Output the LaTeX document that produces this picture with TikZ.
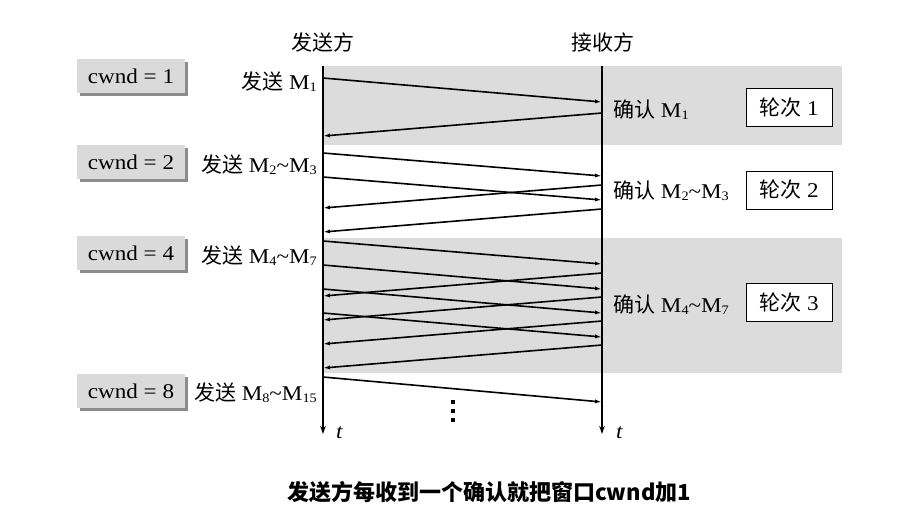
\documentclass[tikz,border=0pt]{standalone}
\usepackage{fontspec}
\setmainfont{Liberation Serif}[FakeStretch=1.1]
\newfontfamily\cjk{Noto Sans CJK SC}
\usetikzlibrary{arrows.meta,shadows}
\newcommand\zh[1]{{\cjk #1}}
\newcommand\sbs[1]{\raisebox{-2.5pt}{\fontsize{13}{14}\selectfont #1}}
\newcommand\tld{\textasciitilde}
\definecolor{bandgray}{HTML}{DCDCDC}
\definecolor{boxgray}{HTML}{DADADA}
\definecolor{shadowgray}{HTML}{8C8C8C}
\begin{document}
\begin{tikzpicture}[x=1pt,y=-1pt,
  every node/.style={font=\fontsize{21}{23}\selectfont, inner sep=0pt},
  lifeline/.style={line width=1.3pt,-{Stealth[length=8pt,width=5.5pt]}},
  msg/.style={line width=1.6pt,-{Latex[length=7pt,width=4pt]}},
  band/.style={fill=bandgray,draw=none},
  cwndbox/.style={fill=boxgray, minimum width=108pt, minimum height=34pt,
     drop shadow={shadow xshift=3pt, shadow yshift=-3pt, fill=shadowgray, opacity=1}},
  roundbox/.style={draw=black, line width=1pt, fill=white, minimum width=86pt, minimum height=38pt},
  sendlbl/.style={anchor=base east},
  acklbl/.style={anchor=base west},
  dotsq/.style={fill=black, minimum size=4.5pt, inner sep=0pt},
]
\useasboundingbox (0,0) rectangle (910,512);
\fill[white] (0,0) rectangle (910,512);
% bands
\fill[band] (323,66) rectangle (842,145);
\fill[band] (323,238) rectangle (842,373);
% headers
\node (hs) at (323,42) {\zh{发送方}};
\node (hr) at (603,42) {\zh{接收方}};
% lifelines
\coordinate (stop) at (323,66);
\coordinate (sbot) at (323,434);
\coordinate (rtop) at (602,66);
\coordinate (rbot) at (602,434);
\draw[lifeline] (stop) -- (sbot);
\draw[lifeline] (rtop) -- (rbot);
\node[anchor=west] (ts) at (336,433) {\itshape t};
\node[anchor=west] (tr) at (616,433) {\itshape t};
% data segments
\foreach \a/\b [count=\i] in {78/102, 153/176, 177/200, 241/264, 265/289, 289/313, 313/337, 377/402} {
  \coordinate (snd\i) at (323,\a);
  \coordinate (rcv\i) at (602,\b);
  \draw[msg] (snd\i) -- (rcv\i);
}
% acknowledgements
\foreach \a/\b [count=\i] in {113/136, 185/208, 209/232, 273/296, 297/320, 321/344, 345/368} {
  \coordinate (ackr\i) at (602,\a);
  \coordinate (acks\i) at (323,\b);
  \draw[msg] (ackr\i) -- (acks\i);
}
% cwnd boxes
\node[cwndbox] (c1) at (131,76) {cwnd = 1};
\node[cwndbox] (c2) at (131,162) {cwnd = 2};
\node[cwndbox] (c4) at (131,253) {cwnd = 4};
\node[cwndbox] (c8) at (131,391) {cwnd = 8};
% send labels
\node[sendlbl] (l1) at (317,89) {\zh{发送} M\sbs{1}};
\node[sendlbl] (l2) at (317,172) {\zh{发送} M\sbs{2}\tld M\sbs{3}};
\node[sendlbl] (l4) at (317,263) {\zh{发送} M\sbs{4}\tld M\sbs{7}};
\node[sendlbl] (l8) at (317,400) {\zh{发送} M\sbs{8}\tld M\sbs{15}};
% ack labels
\node[acklbl] (a1) at (613,117) {\zh{确认} M\sbs{1}};
\node[acklbl] (a2) at (613,198) {\zh{确认} M\sbs{2}\tld M\sbs{3}};
\node[acklbl] (a3) at (613,312) {\zh{确认} M\sbs{4}\tld M\sbs{7}};
% round boxes
\node[roundbox] (r1) at (789,107.5) {\zh{轮次} 1};
\node[roundbox] (r2) at (789,190) {\zh{轮次} 2};
\node[roundbox] (r3) at (789,302.5) {\zh{轮次} 3};
% dots
\node[dotsq] (d1) at (453,402) {};
\node[dotsq] (d2) at (453,411) {};
\node[dotsq] (d3) at (453,420) {};
% caption
\node[font=\fontsize{22}{24}\selectfont] (cap) at (489,492) {\cjk\bfseries 发送方每收到一个确认就把窗口cwnd加1};
\end{tikzpicture}
\end{document}
